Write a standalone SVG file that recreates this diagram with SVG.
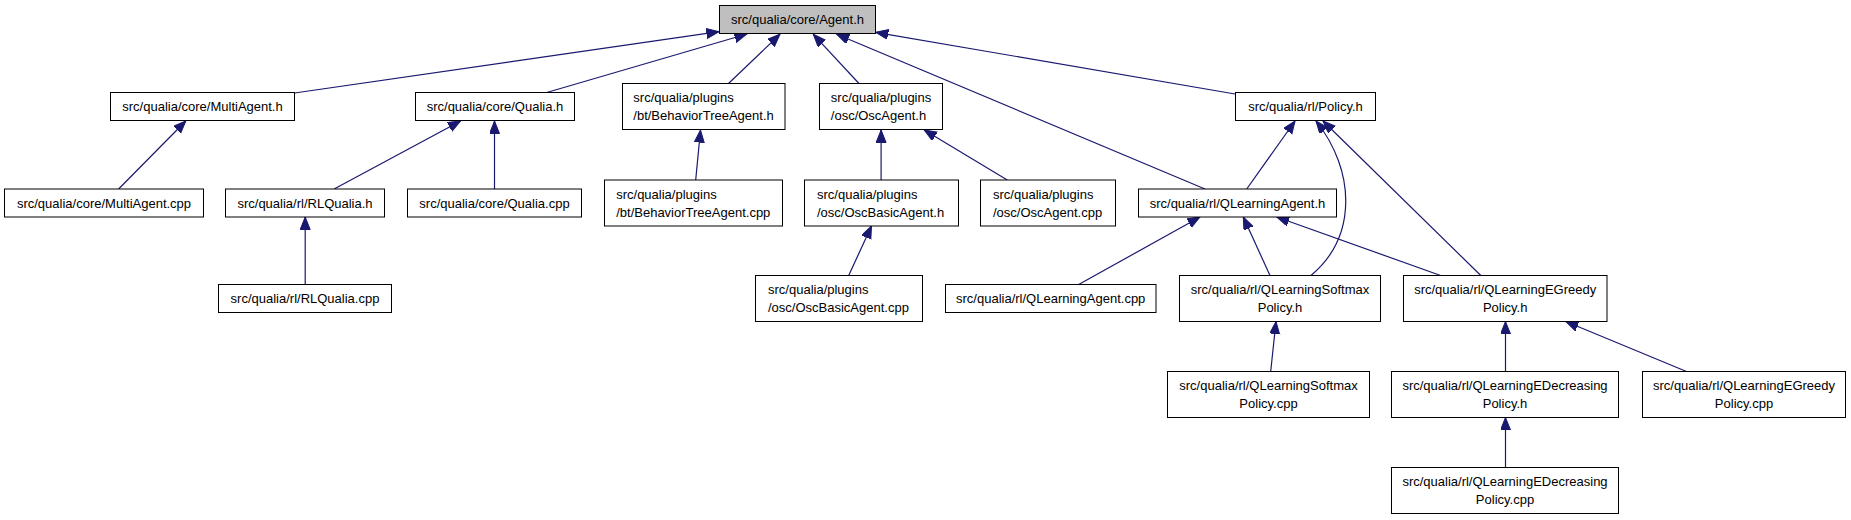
<svg xmlns="http://www.w3.org/2000/svg" width="1851" height="520" viewBox="0 0 1851 520">
<style>
  .node rect { fill: #ffffff; stroke: #000000; stroke-width: 1; }
  .node.root rect { fill: #bfbfbf; }
  .node text { font-family: "Liberation Sans", Arial, sans-serif; font-size: 13px; fill: #000000; }
  .c { text-anchor: middle; }
  .l { text-anchor: start; }
  .edges path { fill: none; stroke: #191970; stroke-width: 1.2; }
</style>
<defs>
  <marker id="ah" markerUnits="userSpaceOnUse" markerWidth="15" markerHeight="12" refX="12.5" refY="5" orient="auto">
    <path d="M0,0 L12.5,5 L0,10 z" fill="#191970" stroke="#191970" stroke-width="1"/>
  </marker>
</defs>
<rect x="0" y="0" width="1851" height="520" fill="#ffffff"/>

<g class="edges">
  <path d="M294.6,93 L719,31.7" marker-end="url(#ah)"/>
  <path d="M545,93 L747,34" marker-end="url(#ah)"/>
  <path d="M728.5,83.5 L780,34.3" marker-end="url(#ah)"/>
  <path d="M859,83.5 L813.3,34.3" marker-end="url(#ah)"/>
  <path d="M1205,189 L836.7,34.3" marker-end="url(#ah)"/>
  <path d="M1235,94 L875.7,32.3" marker-end="url(#ah)"/>
  <path d="M118.6,189 L185.8,121" marker-end="url(#ah)"/>
  <path d="M334.1,189 L460.6,121" marker-end="url(#ah)"/>
  <path d="M494.5,189 L494.5,121" marker-end="url(#ah)"/>
  <path d="M305.2,284.5 L305.2,217" marker-end="url(#ah)"/>
  <path d="M695.7,180 L700.5,130" marker-end="url(#ah)"/>
  <path d="M881.1,180 L881.1,130" marker-end="url(#ah)"/>
  <path d="M1007.3,180 L924.2,130" marker-end="url(#ah)"/>
  <path d="M848.7,275.5 L871.5,226" marker-end="url(#ah)"/>
  <path d="M1246.7,189 L1295,121" marker-end="url(#ah)"/>
  <path d="M1311,275.5 C1358,236 1355,170 1316,121" marker-end="url(#ah)"/>
  <path d="M1480.8,275.5 L1323,121" marker-end="url(#ah)"/>
  <path d="M1078.7,284.5 L1200,217" marker-end="url(#ah)"/>
  <path d="M1270,275.5 L1243.3,217" marker-end="url(#ah)"/>
  <path d="M1440.6,275.5 L1276.7,217" marker-end="url(#ah)"/>
  <path d="M1270.7,371.5 L1276,321.5" marker-end="url(#ah)"/>
  <path d="M1505.5,371.5 L1505.5,321.5" marker-end="url(#ah)"/>
  <path d="M1686.5,371.5 L1565.8,321.5" marker-end="url(#ah)"/>
  <path d="M1505.5,467.5 L1505.5,417.5" marker-end="url(#ah)"/>
</g>

<g id="agent_h" class="node root">
  <rect x="719.5" y="5.5" width="156" height="28"/>
  <text class="c" x="797.5" y="24">src/qualia/core/Agent.h</text>
</g>
<g id="multiagent_h" class="node">
  <rect x="110.5" y="92.5" width="184" height="28"/>
  <text class="c" x="202.5" y="111">src/qualia/core/MultiAgent.h</text>
</g>
<g id="qualia_h" class="node">
  <rect x="415.5" y="92.5" width="159" height="28"/>
  <text class="c" x="495" y="111">src/qualia/core/Qualia.h</text>
</g>
<g id="behaviortreeagent_h" class="node">
  <rect x="622.5" y="83.5" width="162.5" height="46"/>
  <text class="l" x="633.3" y="102.2">src/qualia/plugins</text>
  <text class="l" x="633.3" y="120.2">/bt/BehaviorTreeAgent.h</text>
</g>
<g id="oscagent_h" class="node">
  <rect x="819.5" y="83.5" width="123" height="46"/>
  <text class="l" x="830.8" y="102.2">src/qualia/plugins</text>
  <text class="l" x="830.8" y="120.2">/osc/OscAgent.h</text>
</g>
<g id="policy_h" class="node">
  <rect x="1235.5" y="92.5" width="140" height="28"/>
  <text class="c" x="1305.5" y="111">src/qualia/rl/Policy.h</text>
</g>
<g id="multiagent_cpp" class="node">
  <rect x="4.5" y="189" width="199" height="28"/>
  <text class="c" x="104" y="207.5">src/qualia/core/MultiAgent.cpp</text>
</g>
<g id="rlqualia_h" class="node">
  <rect x="225.5" y="189" width="159" height="28"/>
  <text class="c" x="305" y="207.5">src/qualia/rl/RLQualia.h</text>
</g>
<g id="qualia_cpp" class="node">
  <rect x="407.5" y="189" width="174" height="28"/>
  <text class="c" x="494.5" y="207.5">src/qualia/core/Qualia.cpp</text>
</g>
<g id="behaviortreeagent_cpp" class="node">
  <rect x="604.5" y="180" width="178" height="46"/>
  <text class="l" x="616.2" y="198.7">src/qualia/plugins</text>
  <text class="l" x="616.2" y="216.7">/bt/BehaviorTreeAgent.cpp</text>
</g>
<g id="oscbasicagent_h" class="node">
  <rect x="804.5" y="180" width="154" height="46"/>
  <text class="l" x="817" y="198.7">src/qualia/plugins</text>
  <text class="l" x="817" y="216.7">/osc/OscBasicAgent.h</text>
</g>
<g id="oscagent_cpp" class="node">
  <rect x="980.5" y="180" width="135" height="46"/>
  <text class="l" x="993" y="198.7">src/qualia/plugins</text>
  <text class="l" x="993" y="216.7">/osc/OscAgent.cpp</text>
</g>
<g id="qlearningagent_h" class="node">
  <rect x="1138.5" y="189" width="198" height="28"/>
  <text class="c" x="1237.5" y="207.5">src/qualia/rl/QLearningAgent.h</text>
</g>
<g id="rlqualia_cpp" class="node">
  <rect x="218.5" y="284.5" width="173" height="28"/>
  <text class="c" x="305" y="303">src/qualia/rl/RLQualia.cpp</text>
</g>
<g id="oscbasicagent_cpp" class="node">
  <rect x="755.5" y="275.5" width="167" height="46"/>
  <text class="l" x="768" y="294.2">src/qualia/plugins</text>
  <text class="l" x="768" y="312.2">/osc/OscBasicAgent.cpp</text>
</g>
<g id="qlearningagent_cpp" class="node">
  <rect x="945.5" y="284.5" width="210.5" height="28"/>
  <text class="c" x="1050.7" y="303">src/qualia/rl/QLearningAgent.cpp</text>
</g>
<g id="qlearningsoftmaxpolicy_h" class="node">
  <rect x="1179.5" y="275.5" width="201" height="46"/>
  <text class="c" x="1280" y="294.2">src/qualia/rl/QLearningSoftmax</text>
  <text class="c" x="1280" y="312.2">Policy.h</text>
</g>
<g id="qlearningegreedypolicy_h" class="node">
  <rect x="1403.5" y="275.5" width="203.5" height="46"/>
  <text class="c" x="1505.2" y="294.2">src/qualia/rl/QLearningEGreedy</text>
  <text class="c" x="1505.2" y="312.2">Policy.h</text>
</g>
<g id="qlearningsoftmaxpolicy_cpp" class="node">
  <rect x="1167.5" y="371.5" width="202" height="46"/>
  <text class="c" x="1268.5" y="390.2">src/qualia/rl/QLearningSoftmax</text>
  <text class="c" x="1268.5" y="408.2">Policy.cpp</text>
</g>
<g id="qlearningedecreasingpolicy_h" class="node">
  <rect x="1391.5" y="371.5" width="227" height="46"/>
  <text class="c" x="1505" y="390.2">src/qualia/rl/QLearningEDecreasing</text>
  <text class="c" x="1505" y="408.2">Policy.h</text>
</g>
<g id="qlearningegreedypolicy_cpp" class="node">
  <rect x="1642.5" y="371.5" width="203" height="46"/>
  <text class="c" x="1744" y="390.2">src/qualia/rl/QLearningEGreedy</text>
  <text class="c" x="1744" y="408.2">Policy.cpp</text>
</g>
<g id="qlearningedecreasingpolicy_cpp" class="node">
  <rect x="1391.5" y="467.5" width="227" height="46"/>
  <text class="c" x="1505" y="486.2">src/qualia/rl/QLearningEDecreasing</text>
  <text class="c" x="1505" y="504.2">Policy.cpp</text>
</g>
</svg>
